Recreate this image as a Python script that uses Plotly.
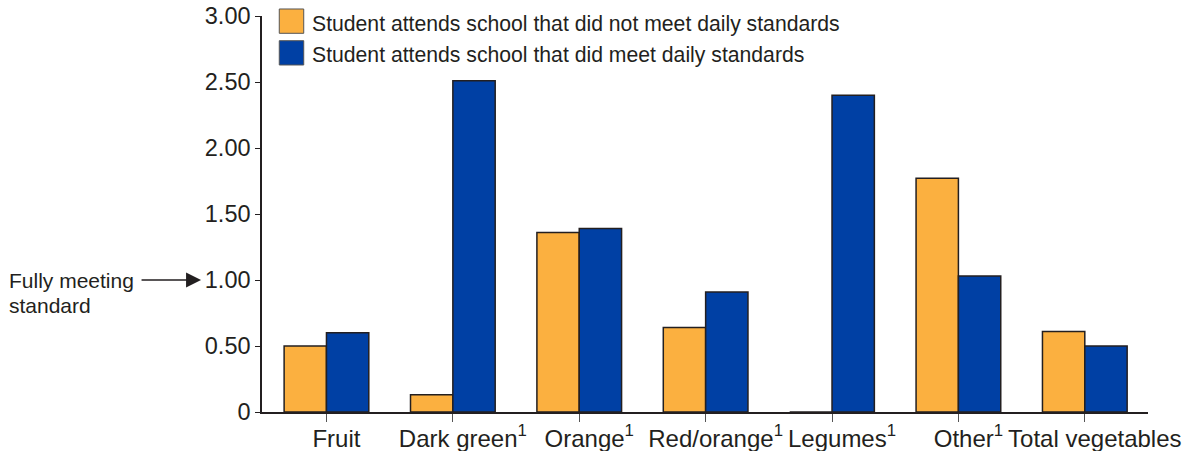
import plotly.graph_objects as go

categories = ["Fruit", "Dark green", "Orange", "Red/orange", "Legumes", "Other", "Total vegetables"]
tick_labels = ["Fruit", "Dark green<sup>1</sup>", "Orange<sup>1</sup>", "Red/orange<sup>1</sup>",
               "Legumes<sup>1</sup>", "Other<sup>1</sup>", "Total vegetables"]
not_meet = [0.50, 0.13, 1.36, 0.64, 0.0, 1.77, 0.61]
did_meet = [0.60, 2.51, 1.39, 0.91, 2.40, 1.03, 0.50]
series_names = ["Student attends school that did not meet daily standards",
                "Student attends school that did meet daily standards"]
y_tickvals = [0, 0.5, 1.0, 1.5, 2.0, 2.5, 3.0]
y_ticktext = ["0", "0.50", "1.00", "1.50", "2.00", "2.50", "3.00"]

ORANGE = "#FBB040"
BLUE = "#0040A4"
INK = "#231F20"
FONT = "Liberation Sans, Arial, sans-serif"

x_idx = list(range(len(categories)))

fig = go.Figure()
fig.add_trace(go.Bar(x=x_idx, y=not_meet, name=series_names[0], marker_color=ORANGE,
                     marker_line=dict(color=INK, width=1.5), showlegend=False))
fig.add_trace(go.Bar(x=x_idx, y=did_meet, name=series_names[1], marker_color=BLUE,
                     marker_line=dict(color=INK, width=1.5), showlegend=False))

fig.update_layout(
    width=1197, height=451, autosize=False,
    margin=dict(l=262, r=49, t=16, b=39, pad=0, autoexpand=False),
    paper_bgcolor="white", plot_bgcolor="white",
    barmode="group", bargap=0.33, bargroupgap=0,
    font=dict(family=FONT, color=INK, size=23),
    xaxis=dict(range=[-0.51, 6.5], tickmode="array", tickvals=x_idx, ticktext=tick_labels,
               showline=True, linecolor=INK, linewidth=1.5, ticks="outside", ticklen=8,
               tickcolor="#555555", tickwidth=1.2, showgrid=False, zeroline=False,
               automargin=False, fixedrange=True, ticklabelshift=10, ticklabelstandoff=-4,
               tickfont=dict(size=24, color=INK, family=FONT)),
    yaxis=dict(range=[0, 3.0], tickmode="array", tickvals=y_tickvals, ticktext=y_ticktext,
               showline=True, linecolor=INK, linewidth=1.5, ticks="outside", ticklen=5,
               tickcolor=INK, tickwidth=1.2, showgrid=False, zeroline=False,
               automargin=False, fixedrange=True,
               tickfont=dict(size=23.5, color=INK, family=FONT)),
)

# Custom legend (large square swatches)
legend_colors = [ORANGE, BLUE]
sw_y = [(1.0177, 0.9563), (0.9376, 0.8763)]
for col, (y1, y0), name in zip(legend_colors, sw_y, series_names):
    fig.add_shape(type="rect", xref="paper", yref="paper", x0=0.0195, x1=0.0471, y0=y0, y1=y1,
                  fillcolor=col, line=dict(color="#555555", width=1))
    fig.add_annotation(xref="paper", yref="paper", x=0.0545, y=(y0 + y1) / 2 - 0.006,
                       xanchor="left", yanchor="middle", showarrow=False, text=name,
                       font=dict(size=21.2, color=INK, family=FONT))

# "Fully meeting standard" callout
fig.add_annotation(xref="paper", yref="y", x=-0.2876, y=1.0, xanchor="left", yanchor="middle",
                   showarrow=False, text="Fully meeting", font=dict(size=21, color=INK, family=FONT))
fig.add_annotation(xref="paper", yref="y", x=-0.2876, y=0.81, xanchor="left", yanchor="middle",
                   showarrow=False, text="standard", font=dict(size=21, color=INK, family=FONT))
fig.add_annotation(xref="paper", yref="y", x=-0.0688, y=1.0, ax=-61, ay=0, text="",
                   showarrow=True, arrowhead=2, arrowsize=2.3, arrowwidth=1.3, arrowcolor=INK)

fig.write_html("out.html", config={"displayModeBar": False},
               post_script="document.body.style.margin='0';document.body.style.overflow='hidden';")
